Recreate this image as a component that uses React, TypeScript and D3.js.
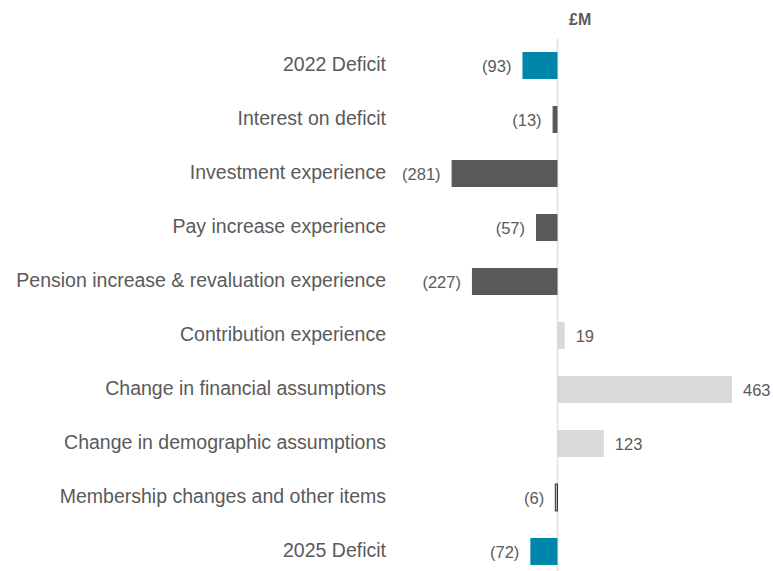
import React from "react";
import * as d3 from "d3";

const categories = [
  "2022 Deficit",
  "Interest on deficit",
  "Investment experience",
  "Pay increase experience",
  "Pension increase & revaluation experience",
  "Contribution experience",
  "Change in financial assumptions",
  "Change in demographic assumptions",
  "Membership changes and other items",
  "2025 Deficit",
];
const values = [-93, -13, -281, -57, -227, 19, 463, 123, -6, -72];
const kinds = ["total", "neg", "neg", "neg", "neg", "pos", "pos", "pos", "small", "total"];
const unitLabel = "£M";

const W = 773;
const H = 571;

const fills: Record<string, string> = {
  total: "#0085ab",
  neg: "#595959",
  pos: "#d9d9d9",
  small: "#b0b0b0",
};

const fmt = (v: number) => (v < 0 ? `(${Math.abs(v)})` : `${v}`);

export default function App() {
  const x = d3.scaleLinear().domain([0, 463]).range([557.5, 732]);
  const y = d3
    .scaleBand<string>()
    .domain(categories)
    .range([38.5, 578.5])
    .paddingInner(0.5)
    .paddingOuter(0.25);
  const font = "'Liberation Sans', Arial, Helvetica, sans-serif";
  const textColor = "#5a5a5a";

  return (
    <svg
      width={W}
      height={H}
      style={{ position: "absolute", left: 0, top: 0, background: "#fff" }}
      fontFamily={font}
    >
      <text x={569} y={25} fontSize={16} fontWeight="bold" fill={textColor}>
        {unitLabel}
      </text>
      <line x1={x(0)} x2={x(0)} y1={y.range()[0]} y2={H} stroke="#e2e2e2" strokeWidth={1.5} />
      {categories.map((c, i) => {
        const v = values[i];
        const y0 = y(c)!;
        const bh = y.bandwidth();
        const x0 = Math.min(x(0), x(v));
        const w = Math.abs(x(v) - x(0));
        const cy = y0 + bh / 2;
        const k = kinds[i];
        return (
          <g key={c}>
            <text
              x={386}
              y={cy}
              dy="0.26em"
              textAnchor="end"
              fontSize={19.5}
              fill={textColor}
            >
              {c}
            </text>
            <rect
              x={x0}
              y={y0}
              width={w}
              height={bh}
              fill={fills[k]}
              stroke={k === "small" ? "#111" : "none"}
              strokeWidth={k === "small" ? 0.8 : 0}
            />
            <text
              x={v < 0 ? x(v) - 11 : x(v) + 11}
              y={cy}
              dy="0.4em"
              textAnchor={v < 0 ? "end" : "start"}
              fontSize={16.5}
              fill={textColor}
            >
              {fmt(v)}
            </text>
          </g>
        );
      })}
    </svg>
  );
}
